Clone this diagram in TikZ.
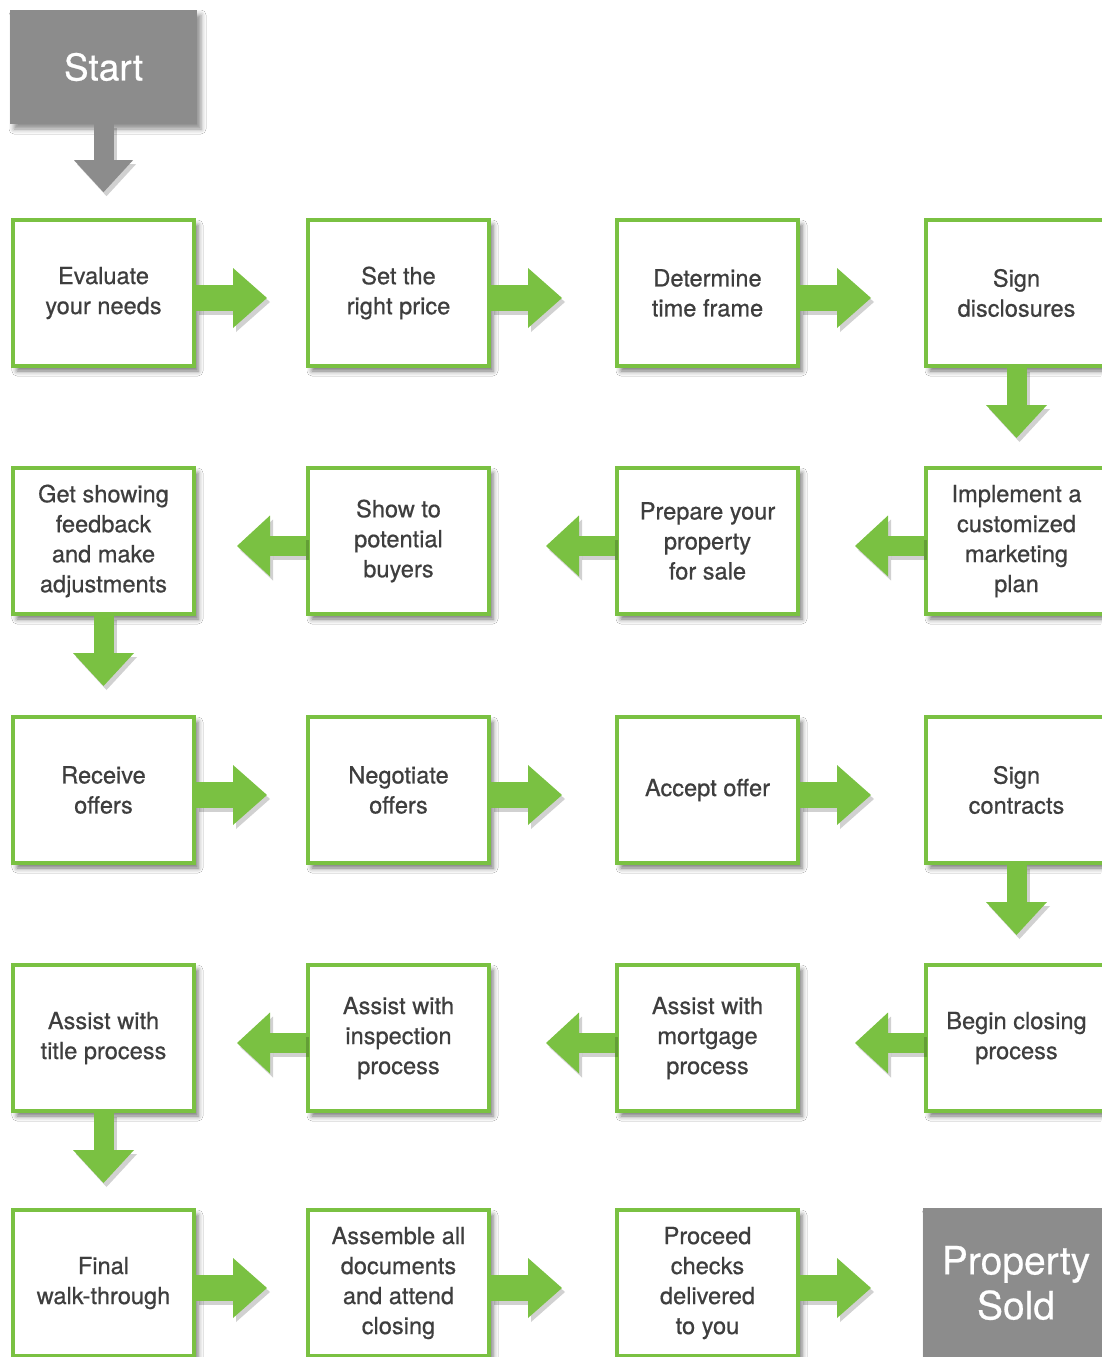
\documentclass[tikz,border=0pt]{standalone}
\usepackage{fontspec}
\setmainfont{TeX Gyre Heros}
\newfontfamily\boxfont{TeX Gyre Heros}[FakeBold=0.6]
\usetikzlibrary{arrows.meta,shadows.blur}
\definecolor{gr}{RGB}{122,193,66}
\definecolor{gy}{RGB}{140,140,140}
\definecolor{tx}{RGB}{62,62,62}
\newcommand\arrowlink[3]{%
  \draw[#1,draw=black,opacity=0.18,transform canvas={shift={(3pt,-4pt)}}] (#2) -- (#3);
  \draw[#1] (#2) -- (#3);}
\begin{document}
\begin{tikzpicture}[x=1pt,y=-1pt,
  stepbox/.style={draw=gr, line width=4pt, fill=white, minimum width=181pt,
    minimum height=146pt, align=center, text=tx, inner sep=0pt,
    font=\boxfont\fontsize{23.6}{30}\selectfont,
    blur shadow={shadow xshift=4pt, shadow yshift=-5pt, shadow blur radius=5pt, shadow opacity=55}},
  endbox/.style={fill=gy, text=white, align=center, inner sep=0pt,
    blur shadow={shadow xshift=4pt, shadow yshift=-5pt, shadow blur radius=5pt, shadow opacity=45}},
  rarr/.style={draw=gr, line width=26pt, -{Triangle[length=34pt,width=60pt,line width=0pt]}},
  larr/.style={draw=gr, line width=20pt, -{Triangle[length=33pt,width=61pt,line width=0pt]}},
  darr/.style={draw=gr, line width=20pt, -{Triangle[length=33pt,width=61pt,line width=0pt]}},
  garr/.style={draw=gy, line width=20pt, -{Triangle[length=32pt,width=59pt,line width=0pt]}},
]
\fill[white] (0,0) rectangle (1101,1357);
\useasboundingbox (0,0) rectangle (1101,1357);

% start
\node[endbox, minimum width=187pt, minimum height=114pt, font=\boxfont\fontsize{37}{40}\selectfont] (start) at (103.5,67) {Start};

% row 1
\node[stepbox] (a1) at (103.5,293) {Evaluate\\your needs};
\node[stepbox] (a2) at (398.5,293) {Set the\\right price};
\node[stepbox] (a3) at (707.5,293) {Determine\\time frame};
\node[stepbox] (a4) at (1016.5,293) {Sign\\disclosures};
% row 2
\node[stepbox] (b1) at (103.5,541) {Get showing\\feedback\\and make\\adjustments};
\node[stepbox] (b2) at (398.5,541) {Show to\\potential\\buyers};
\node[stepbox] (b3) at (707.5,541) {Prepare your\\property\\for sale};
\node[stepbox] (b4) at (1016.5,541) {Implement a\\customized\\marketing\\plan};
% row 3
\node[stepbox] (c1) at (103.5,790) {Receive\\offers};
\node[stepbox] (c2) at (398.5,790) {Negotiate\\offers};
\node[stepbox] (c3) at (707.5,790) {Accept offer};
\node[stepbox] (c4) at (1016.5,790) {Sign\\contracts};
% row 4
\node[stepbox] (d1) at (103.5,1038) {Assist with\\title process};
\node[stepbox] (d2) at (398.5,1038) {Assist with\\inspection\\process};
\node[stepbox] (d3) at (707.5,1038) {Assist with\\mortgage\\process};
\node[stepbox] (d4) at (1016.5,1038) {Begin closing\\process};
% row 5
\node[stepbox] (e1) at (103.5,1283) {Final\\walk-through};
\node[stepbox] (e2) at (398.5,1283) {Assemble all\\documents\\and attend\\closing};
\node[stepbox] (e3) at (707.5,1283) {Proceed\\checks\\delivered\\to you};
\node[endbox, minimum width=186pt, minimum height=150pt, font=\boxfont\fontsize{39}{45}\selectfont] (sold) at (1016,1283) {Property\\Sold};

% tip coordinates
\coordinate (ts) at ([yshift=-68pt]start.south);
\coordinate (ta1) at ([xshift=71pt,yshift=-5pt]a1.east);
\coordinate (ta2) at ([xshift=71pt,yshift=-5pt]a2.east);
\coordinate (ta3) at ([xshift=71pt,yshift=-5pt]a3.east);
\coordinate (ta4) at ([yshift=-70pt]a4.south);
\coordinate (tb4) at ([xshift=-69pt,yshift=-5pt]b4.west);
\coordinate (tb3) at ([xshift=-69pt,yshift=-5pt]b3.west);
\coordinate (tb2) at ([xshift=-69pt,yshift=-5pt]b2.west);
\coordinate (tb1) at ([yshift=-70pt]b1.south);
\coordinate (tc1) at ([xshift=71pt,yshift=-5pt]c1.east);
\coordinate (tc2) at ([xshift=71pt,yshift=-5pt]c2.east);
\coordinate (tc3) at ([xshift=71pt,yshift=-5pt]c3.east);
\coordinate (tc4) at ([yshift=-70pt]c4.south);
\coordinate (td4) at ([xshift=-69pt,yshift=-5pt]d4.west);
\coordinate (td3) at ([xshift=-69pt,yshift=-5pt]d3.west);
\coordinate (td2) at ([xshift=-69pt,yshift=-5pt]d2.west);
\coordinate (td1) at ([yshift=-70pt]d1.south);
\coordinate (te1) at ([xshift=71pt,yshift=-5pt]e1.east);
\coordinate (te2) at ([xshift=71pt,yshift=-5pt]e2.east);
\coordinate (te3) at ([xshift=71pt,yshift=-5pt]e3.east);

% connectors
\arrowlink{garr}{start.south}{ts}
\arrowlink{rarr}{[yshift=-5pt]a1.east}{ta1}
\arrowlink{rarr}{[yshift=-5pt]a2.east}{ta2}
\arrowlink{rarr}{[yshift=-5pt]a3.east}{ta3}
\arrowlink{darr}{a4.south}{ta4}
\arrowlink{larr}{[yshift=-5pt]b4.west}{tb4}
\arrowlink{larr}{[yshift=-5pt]b3.west}{tb3}
\arrowlink{larr}{[yshift=-5pt]b2.west}{tb2}
\arrowlink{darr}{b1.south}{tb1}
\arrowlink{rarr}{[yshift=-5pt]c1.east}{tc1}
\arrowlink{rarr}{[yshift=-5pt]c2.east}{tc2}
\arrowlink{rarr}{[yshift=-5pt]c3.east}{tc3}
\arrowlink{darr}{c4.south}{tc4}
\arrowlink{larr}{[yshift=-5pt]d4.west}{td4}
\arrowlink{larr}{[yshift=-5pt]d3.west}{td3}
\arrowlink{larr}{[yshift=-5pt]d2.west}{td2}
\arrowlink{darr}{d1.south}{td1}
\arrowlink{rarr}{[yshift=-5pt]e1.east}{te1}
\arrowlink{rarr}{[yshift=-5pt]e2.east}{te2}
\arrowlink{rarr}{[yshift=-5pt]e3.east}{te3}
\end{tikzpicture}
\end{document}
